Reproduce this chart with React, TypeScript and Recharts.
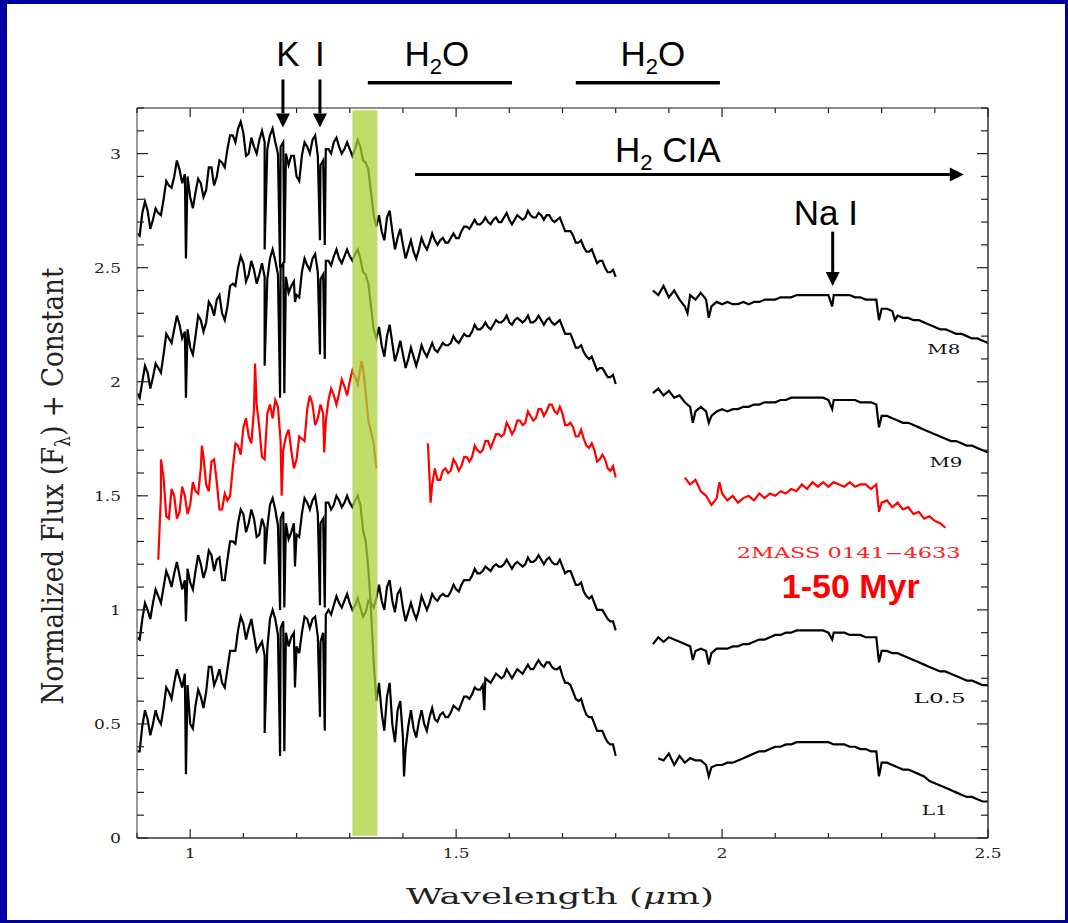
import React from 'react';
import { LineChart, Line, XAxis, YAxis, ReferenceArea, ReferenceLine, ReferenceDot } from 'recharts';

// wavelength grids (micron) for the three windows
const jWave = [0.90, 0.91, 0.92, 0.93, 0.94, 0.95, 0.96, 0.97, 0.98, 0.99, 1.00, 1.01, 1.02, 1.03, 1.04, 1.05, 1.06, 1.07, 1.08, 1.09, 1.10, 1.11, 1.12, 1.13, 1.14, 1.15, 1.16, 1.17, 1.18, 1.19, 1.20, 1.21, 1.22, 1.23, 1.24, 1.25, 1.26, 1.27, 1.28, 1.29, 1.30, 1.31, 1.32, 1.33, 1.34, 1.35];
const hWave = [1.36, 1.37, 1.38, 1.39, 1.40, 1.41, 1.42, 1.43, 1.44, 1.45, 1.46, 1.47, 1.48, 1.49, 1.50, 1.51, 1.52, 1.53, 1.54, 1.55, 1.56, 1.57, 1.58, 1.59, 1.60, 1.61, 1.62, 1.63, 1.64, 1.65, 1.66, 1.67, 1.68, 1.69, 1.70, 1.71, 1.72, 1.73, 1.74, 1.75, 1.76, 1.77, 1.78, 1.79, 1.80];
const kWave = [1.87, 1.88, 1.89, 1.90, 1.91, 1.92, 1.93, 1.94, 1.95, 1.96, 1.97, 1.98, 1.99, 2.00, 2.01, 2.02, 2.03, 2.04, 2.05, 2.06, 2.07, 2.08, 2.09, 2.10, 2.11, 2.12, 2.13, 2.14, 2.15, 2.16, 2.17, 2.18, 2.19, 2.20, 2.21, 2.22, 2.23, 2.24, 2.25, 2.26, 2.27, 2.28, 2.29, 2.30, 2.31, 2.32, 2.33, 2.34, 2.35, 2.36, 2.37, 2.38, 2.39, 2.40, 2.41, 2.42, 2.43, 2.44, 2.45, 2.46, 2.47, 2.48, 2.49, 2.50];
// in-between samples where the spectra are noisy
const jHalf = [0.905, 0.915, 0.925, 0.935, 0.945, 0.955, 0.965, 0.975, 0.985, 0.995, 1.005, 1.015, 1.025, 1.035, 1.045, 1.055, 1.065, 1.075, 1.085, 1.095, 1.105, 1.115, 1.125, 1.135, 1.145, 1.155, 1.165, 1.175, 1.185, 1.195, 1.205, 1.215, 1.225, 1.235, 1.245, 1.255, 1.265, 1.275, 1.285, 1.295, 1.305, 1.315, 1.325, 1.335, 1.345];
const hHalf = [1.355, 1.365, 1.375, 1.385, 1.395, 1.405, 1.415, 1.425, 1.435, 1.445, 1.455, 1.465, 1.475, 1.485, 1.495, 1.505, 1.515, 1.525, 1.535, 1.545, 1.555, 1.565, 1.575, 1.585, 1.595, 1.605, 1.615, 1.625, 1.635, 1.645, 1.655, 1.665, 1.675, 1.685, 1.695, 1.705, 1.715, 1.725, 1.735, 1.745, 1.755, 1.765, 1.775, 1.785, 1.795];
const gapWave = 1.835;

// M8
const m8J = [2.65, 2.74, 2.75, 2.71, 2.74, 2.80, 2.86, 2.90, 2.93, 2.91, 2.81, 2.83, 2.87, 2.84, 2.94, 2.90, 2.96, 3.02, 3.08, 3.11, 3.09, 3.00, 3.03, 3.06, 3.05, 3.08, 3.05, 3.03, 3.00, 2.99, 2.90, 2.99, 3.03, 3.06, 2.99, 2.97, 3.02, 3.05, 3.03, 3.02, 3.02, 3.02, 3.03, 2.96, 2.83, 2.68];
const m8Jh = [2.64, 2.79, 2.67, 2.76, 2.73, 2.88, 2.85, 2.97, 2.87, 2.90, 2.76, 2.89, 2.81, 2.94, 2.86, 2.97, 2.94, 3.08, 3.05, 3.14, 2.99, 3.07, 3.00, 3.10, 3.02, 3.11, 3.00, 3.05, 2.95, 2.99, 2.88, 3.05, 3.00, 3.08, 2.95, 3.02, 3.00, 3.07, 3.00, 3.05, 2.99, 3.06, 2.97, 2.93, 2.73];
const m8H = [2.66, 2.72, 2.66, 2.63, 2.60, 2.58, 2.57, 2.58, 2.60, 2.61, 2.62, 2.62, 2.61, 2.63, 2.63, 2.66, 2.68, 2.69, 2.69, 2.70, 2.70, 2.71, 2.70, 2.72, 2.71, 2.71, 2.72, 2.72, 2.73, 2.72, 2.73, 2.73, 2.71, 2.71, 2.69, 2.66, 2.64, 2.61, 2.59, 2.57, 2.55, 2.53, 2.50, 2.48, 2.46];
const m8Hh = [2.73, 2.62, 2.75, 2.58, 2.67, 2.54, 2.62, 2.54, 2.63, 2.58, 2.65, 2.60, 2.63, 2.61, 2.65, 2.63, 2.68, 2.67, 2.71, 2.69, 2.72, 2.69, 2.72, 2.70, 2.74, 2.69, 2.73, 2.71, 2.75, 2.72, 2.74, 2.71, 2.73, 2.70, 2.72, 2.66, 2.66, 2.61, 2.62, 2.57, 2.58, 2.52, 2.53, 2.48, 2.49];
const m8K = [2.40, 2.38, 2.42, 2.37, 2.40, 2.36, 2.33, 2.38, 2.36, 2.39, 2.36, 2.33, 2.35, 2.34, 2.35, 2.34, 2.34, 2.35, 2.34, 2.35, 2.35, 2.36, 2.36, 2.36, 2.37, 2.37, 2.37, 2.38, 2.38, 2.38, 2.38, 2.38, 2.38, 2.38, 2.38, 2.38, 2.38, 2.38, 2.37, 2.37, 2.36, 2.36, 2.36, 2.32, 2.32, 2.31, 2.29, 2.28, 2.28, 2.27, 2.27, 2.26, 2.25, 2.24, 2.23, 2.23, 2.22, 2.21, 2.21, 2.20, 2.19, 2.19, 2.18, 2.17];
const m8Lines = [[0.992, 2.54], [1.14, 2.58], [1.169, 2.50], [1.177, 2.52], [1.244, 2.62], [1.253, 2.60], [1.935, 2.30], [1.975, 2.28], [2.207, 2.33], [2.295, 2.27], [2.325, 2.27]];

// M9
const m9J = [1.95, 2.00, 2.04, 2.02, 2.06, 2.12, 2.19, 2.23, 2.25, 2.22, 2.15, 2.20, 2.27, 2.26, 2.33, 2.36, 2.30, 2.33, 2.43, 2.50, 2.52, 2.47, 2.49, 2.47, 2.46, 2.54, 2.53, 2.50, 2.46, 2.42, 2.38, 2.48, 2.51, 2.54, 2.48, 2.47, 2.53, 2.55, 2.54, 2.55, 2.55, 2.56, 2.54, 2.47, 2.33, 2.19];
const m9Jh = [1.93, 2.07, 1.97, 2.08, 2.04, 2.21, 2.17, 2.29, 2.19, 2.23, 2.12, 2.29, 2.22, 2.35, 2.29, 2.38, 2.27, 2.42, 2.42, 2.55, 2.44, 2.53, 2.43, 2.52, 2.45, 2.58, 2.47, 2.52, 2.39, 2.44, 2.37, 2.54, 2.49, 2.56, 2.45, 2.53, 2.51, 2.58, 2.52, 2.58, 2.53, 2.58, 2.48, 2.43, 2.23];
const m9H = [2.16, 2.20, 2.17, 2.13, 2.12, 2.10, 2.11, 2.11, 2.13, 2.14, 2.14, 2.15, 2.16, 2.17, 2.18, 2.19, 2.20, 2.22, 2.23, 2.24, 2.24, 2.25, 2.26, 2.27, 2.26, 2.27, 2.27, 2.27, 2.26, 2.27, 2.27, 2.27, 2.26, 2.26, 2.24, 2.21, 2.18, 2.15, 2.13, 2.10, 2.08, 2.06, 2.04, 2.02, 1.99];
const m9Hh = [2.24, 2.11, 2.25, 2.09, 2.18, 2.06, 2.15, 2.07, 2.16, 2.11, 2.17, 2.13, 2.17, 2.16, 2.20, 2.17, 2.21, 2.20, 2.25, 2.23, 2.26, 2.23, 2.27, 2.26, 2.29, 2.25, 2.28, 2.26, 2.29, 2.26, 2.29, 2.25, 2.28, 2.25, 2.27, 2.21, 2.21, 2.15, 2.16, 2.11, 2.11, 2.05, 2.06, 2.02, 2.03];
const m9K = [1.95, 1.97, 1.94, 1.96, 1.93, 1.94, 1.91, 1.89, 1.87, 1.89, 1.87, 1.85, 1.87, 1.88, 1.87, 1.88, 1.88, 1.89, 1.89, 1.90, 1.90, 1.91, 1.91, 1.91, 1.92, 1.92, 1.93, 1.93, 1.93, 1.93, 1.93, 1.93, 1.93, 1.92, 1.92, 1.92, 1.92, 1.92, 1.92, 1.91, 1.91, 1.91, 1.90, 1.85, 1.85, 1.84, 1.83, 1.82, 1.82, 1.81, 1.80, 1.79, 1.78, 1.77, 1.76, 1.75, 1.74, 1.74, 1.73, 1.72, 1.72, 1.71, 1.70, 1.69];
const m9Lines = [[0.992, 1.93], [1.14, 2.07], [1.169, 1.93], [1.177, 1.95], [1.197, 2.35], [1.244, 2.12], [1.253, 2.10], [1.945, 1.82], [1.975, 1.82], [2.207, 1.88], [2.295, 1.80]];

// 2MASS 0141-4633
const redJ = [null, null, null, null, 1.22, 1.58, 1.40, 1.50, 1.43, 1.50, 1.46, 1.52, 1.62, 1.55, 1.65, 1.56, 1.44, 1.48, 1.62, 1.72, 1.80, 1.76, 1.88, 1.80, 1.66, 1.90, 1.92, 1.74, 1.76, 1.70, 1.66, 1.75, 1.88, 1.90, 1.84, 1.86, 1.92, 1.94, 1.95, 1.98, 2.00, 2.02, 2.06, 1.95, 1.78, 1.62];
const redJh = [null, null, null, null, 1.50, 1.41, 1.53, 1.40, 1.54, 1.42, 1.56, 1.51, 1.67, 1.52, 1.66, 1.44, 1.51, 1.50, 1.73, 1.68, 1.84, 1.73, 1.90, 1.67, 1.86, 1.84, 1.89, 1.70, 1.79, 1.62, 1.76, 1.74, 1.94, 1.81, 1.90, 1.83, 1.97, 1.90, 2.01, 1.94, 2.05, 1.99, 2.06, 1.83, 1.73];
const redH = [null, null, null, null, null, null, null, null, null, 1.58, 1.62, 1.57, 1.62, 1.61, 1.64, 1.63, 1.67, 1.67, 1.70, 1.70, 1.74, 1.74, 1.77, 1.77, 1.80, 1.79, 1.83, 1.82, 1.85, 1.84, 1.88, 1.87, 1.90, 1.86, 1.86, 1.81, 1.80, 1.76, 1.75, 1.71, 1.70, 1.66, 1.66, 1.61, 1.58];
const redHh = [null, null, null, null, null, null, null, null, null, null, 1.55, 1.57, 1.61, 1.60, 1.66, 1.61, 1.67, 1.65, 1.72, 1.69, 1.74, 1.71, 1.77, 1.76, 1.82, 1.77, 1.83, 1.81, 1.87, 1.83, 1.88, 1.85, 1.90, 1.87, 1.89, 1.81, 1.82, 1.76, 1.79, 1.72, 1.73, 1.65, 1.68, 1.62, 1.63];
const redK = [null, null, null, null, null, null, 1.58, 1.55, 1.57, 1.52, 1.50, 1.46, 1.49, 1.51, 1.48, 1.50, 1.47, 1.49, 1.50, 1.48, 1.51, 1.49, 1.51, 1.50, 1.52, 1.51, 1.53, 1.52, 1.55, 1.53, 1.56, 1.54, 1.56, 1.54, 1.56, 1.55, 1.54, 1.56, 1.54, 1.55, 1.55, 1.53, 1.55, 1.47, 1.48, 1.45, 1.47, 1.44, 1.45, 1.42, 1.43, 1.40, 1.41, 1.39, 1.38, 1.36, null, null, null, null, null, null, null, null];
const redLines = [[0.945, 1.66], [1.022, 1.72], [1.122, 2.08], [1.172, 1.50], [1.252, 1.69], [1.322, 2.09], [1.447, 1.73], [1.452, 1.47], [1.995, 1.56], [2.295, 1.43]];

// L0.5
const l05J = [0.38, 0.49, 0.52, 0.50, 0.52, 0.57, 0.64, 0.68, 0.70, 0.72, 0.50, 0.58, 0.62, 0.64, 0.75, 0.70, 0.68, 0.74, 0.82, 0.91, 0.94, 0.92, 0.89, 0.84, 0.80, 0.96, 0.96, 0.92, 0.90, 0.88, 0.84, 0.90, 0.96, 0.96, 0.88, 0.90, 1.00, 1.02, 1.03, 1.04, 1.03, 1.02, 1.01, 0.99, 1.03, 1.05];
const l05Jh = [0.38, 0.56, 0.45, 0.56, 0.50, 0.66, 0.61, 0.74, 0.66, 0.67, 0.48, 0.65, 0.57, 0.75, 0.67, 0.74, 0.66, 0.82, 0.82, 0.97, 0.87, 0.96, 0.82, 0.86, 0.83, 1.00, 0.89, 0.95, 0.84, 0.90, 0.81, 0.97, 0.92, 0.97, 0.86, 0.98, 0.98, 1.06, 1.01, 1.07, 1.00, 1.05, 0.97, 1.04, 1.01];
const l05H = [1.04, 1.10, 1.04, 1.07, 1.01, 0.99, 0.99, 1.00, 1.03, 1.03, 1.05, 1.06, 1.06, 1.08, 1.09, 1.11, 1.13, 1.15, 1.16, 1.17, 1.18, 1.19, 1.19, 1.20, 1.20, 1.20, 1.20, 1.20, 1.21, 1.22, 1.22, 1.22, 1.21, 1.20, 1.19, 1.17, 1.14, 1.11, 1.08, 1.05, 1.03, 1.00, 0.98, 0.95, 0.91];
const l05Hh = [1.11, 1.00, 1.13, 0.99, 1.09, 0.95, 1.03, 0.96, 1.06, 1.00, 1.07, 1.04, 1.07, 1.06, 1.11, 1.08, 1.13, 1.13, 1.18, 1.16, 1.19, 1.17, 1.20, 1.19, 1.22, 1.18, 1.21, 1.19, 1.23, 1.21, 1.24, 1.20, 1.23, 1.20, 1.22, 1.16, 1.17, 1.11, 1.12, 1.06, 1.06, 1.00, 1.00, 0.96, 0.95];
const l05K = [0.85, 0.88, 0.86, 0.88, 0.87, 0.86, 0.85, 0.84, 0.82, 0.83, 0.82, 0.81, 0.83, 0.83, 0.83, 0.84, 0.84, 0.85, 0.85, 0.86, 0.87, 0.87, 0.88, 0.89, 0.89, 0.90, 0.90, 0.91, 0.91, 0.91, 0.91, 0.91, 0.91, 0.90, 0.90, 0.90, 0.90, 0.89, 0.89, 0.89, 0.88, 0.88, 0.88, 0.82, 0.82, 0.81, 0.81, 0.80, 0.79, 0.78, 0.77, 0.76, 0.75, 0.74, 0.73, 0.73, 0.72, 0.71, 0.70, 0.69, 0.69, 0.68, 0.67, 0.67];
const l05Lines = [[0.992, 0.28], [1.14, 0.46], [1.169, 0.36], [1.177, 0.38], [1.197, 0.66], [1.244, 0.53], [1.253, 0.47], [1.945, 0.78], [1.975, 0.76], [2.207, 0.87], [2.295, 0.77]];

// L1
const l1J = [0.88, 0.96, 1.00, 1.03, 1.06, 1.10, 1.14, 1.16, 1.15, 1.13, 1.12, 1.17, 1.20, 1.18, 1.24, 1.22, 1.13, 1.22, 1.30, 1.38, 1.42, 1.38, 1.40, 1.33, 1.36, 1.46, 1.44, 1.40, 1.38, 1.34, 1.33, 1.42, 1.47, 1.48, 1.42, 1.40, 1.47, 1.46, 1.48, 1.47, 1.47, 1.48, 1.46, 1.30, 1.00, 0.60];
const l1Jh = [0.87, 1.03, 0.96, 1.09, 1.03, 1.17, 1.10, 1.21, 1.09, 1.18, 1.09, 1.24, 1.14, 1.26, 1.17, 1.23, 1.13, 1.30, 1.29, 1.44, 1.34, 1.44, 1.32, 1.40, 1.36, 1.49, 1.37, 1.43, 1.31, 1.38, 1.32, 1.49, 1.44, 1.50, 1.38, 1.47, 1.44, 1.50, 1.45, 1.50, 1.45, 1.50, 1.35, 1.18, 0.77];
const l1H = [0.55, 0.62, 0.50, 0.56, 0.44, 0.49, 0.48, 0.51, 0.50, 0.53, 0.52, 0.54, 0.53, 0.55, 0.57, 0.59, 0.62, 0.63, 0.65, 0.67, 0.69, 0.70, 0.71, 0.71, 0.72, 0.72, 0.73, 0.74, 0.74, 0.76, 0.76, 0.77, 0.75, 0.74, 0.71, 0.68, 0.64, 0.60, 0.57, 0.53, 0.50, 0.47, 0.44, 0.41, 0.36];
const l1Hh = [0.68, 0.47, 0.68, 0.42, 0.60, 0.39, 0.56, 0.44, 0.56, 0.47, 0.57, 0.51, 0.55, 0.53, 0.58, 0.56, 0.62, 0.61, 0.66, 0.65, 0.70, 0.68, 0.72, 0.70, 0.74, 0.70, 0.74, 0.72, 0.76, 0.74, 0.78, 0.75, 0.77, 0.74, 0.75, 0.68, 0.67, 0.61, 0.61, 0.54, 0.53, 0.47, 0.47, 0.42, 0.41];
const l1K = [null, 0.35, 0.34, 0.37, 0.32, 0.36, 0.33, 0.35, 0.34, 0.34, 0.32, 0.31, 0.32, 0.32, 0.33, 0.33, 0.34, 0.35, 0.36, 0.37, 0.38, 0.38, 0.39, 0.40, 0.40, 0.41, 0.41, 0.42, 0.42, 0.42, 0.42, 0.42, 0.42, 0.42, 0.41, 0.41, 0.41, 0.40, 0.40, 0.39, 0.39, 0.38, 0.38, 0.33, 0.33, 0.32, 0.31, 0.30, 0.30, 0.29, 0.28, 0.27, 0.25, 0.24, 0.23, 0.22, 0.21, 0.20, 0.19, 0.18, 0.18, 0.17, 0.16, 0.16];
const l1Lines = [[0.992, 0.95], [1.14, 1.20], [1.169, 1.00], [1.177, 1.01], [1.197, 1.19], [1.244, 1.02], [1.253, 1.01], [1.402, 0.27], [1.553, 0.56], [1.975, 0.27], [2.295, 0.27]];

const xTicks = [0.9, 1.0, 1.1, 1.2, 1.3, 1.4, 1.5, 1.6, 1.7, 1.8, 1.9, 2.0, 2.1, 2.2, 2.3, 2.4, 2.5];
const xLabels = ['1', '1.5', '2', '2.5'];
const yTicks = [0, 0.1, 0.2, 0.3, 0.4, 0.5, 0.6, 0.7, 0.8, 0.9, 1.0, 1.1, 1.2, 1.3, 1.4, 1.5, 1.6, 1.7, 1.8, 1.9, 2.0, 2.1, 2.2, 2.3, 2.4, 2.5, 2.6, 2.7, 2.8, 2.9, 3.0, 3.1, 3.2];
const yLabels = ['0', '0.5', '1', '1.5', '2', '2.5', '3'];

type Vals = (number | null)[];
const toRows = (j: Vals, jh: Vals, h: Vals, hh: Vals, k: Vals, lines: number[][]) => {
  const rows: { w: number; f: number | null }[] = [];
  jWave.forEach((w, i) => rows.push({ w, f: j[i] }));
  jHalf.forEach((w, i) => rows.push({ w, f: jh[i] }));
  hWave.forEach((w, i) => rows.push({ w, f: h[i] }));
  hHalf.forEach((w, i) => rows.push({ w, f: hh[i] }));
  rows.push({ w: gapWave, f: null });
  kWave.forEach((w, i) => rows.push({ w, f: k[i] }));
  lines.forEach(([w, f]) => rows.push({ w, f }));
  return rows.sort((a, b) => a.w - b.w);
};

const spectra = [
  { key: 'M8', color: '#000000', rows: toRows(m8J, m8Jh, m8H, m8Hh, m8K, m8Lines) },
  { key: 'M9', color: '#000000', rows: toRows(m9J, m9Jh, m9H, m9Hh, m9K, m9Lines) },
  { key: '2MASS', color: '#ff0000', rows: toRows(redJ, redJh, redH, redHh, redK, redLines) },
  { key: 'L0.5', color: '#000000', rows: toRows(l05J, l05Jh, l05H, l05Hh, l05K, l05Lines) },
  { key: 'L1', color: '#000000', rows: toRows(l1J, l1Jh, l1H, l1Hh, l1K, l1Lines) },
];

const serif = '"DejaVu Serif", "Liberation Serif", serif';
const sans = '"Liberation Sans", Arial, sans-serif';

const BottomTick = (props: any) => {
  const { x, y, payload } = props;
  const lab = xLabels.includes(String(payload.value));
  return (
    <g>
      <line x1={x} y1={y} x2={x} y2={y - (lab ? 9 : 5)} stroke="#222" strokeWidth={1.2} />
      {lab && (
        <text x={x} y={y + 20} textAnchor="middle" fontFamily={serif} fontSize={13} fill="#222"
          textLength={String(payload.value).length > 1 ? 27 : 11} lengthAdjust="spacingAndGlyphs">
          {String(payload.value)}
        </text>
      )}
    </g>
  );
};

const TopTick = (props: any) => {
  const { x, y, payload } = props;
  const lab = xLabels.includes(String(payload.value));
  return <line x1={x} y1={y} x2={x} y2={y + (lab ? 9 : 5)} stroke="#222" strokeWidth={1.2} />;
};

const LeftTick = (props: any) => {
  const { x, y, payload } = props;
  const lab = yLabels.includes(String(payload.value));
  return (
    <g>
      <line x1={x} y1={y} x2={x + (lab ? 11 : 7)} y2={y} stroke="#222" strokeWidth={1.2} />
      {lab && (
        <text x={x - 16} y={y + 5} textAnchor="end" fontFamily={serif} fontSize={13} fill="#222"
          textLength={String(payload.value).length > 1 ? 27 : 11} lengthAdjust="spacingAndGlyphs">
          {String(payload.value)}
        </text>
      )}
    </g>
  );
};

const RightTick = (props: any) => {
  const { x, y, payload } = props;
  const lab = yLabels.includes(String(payload.value));
  return <line x1={x} y1={y} x2={x - (lab ? 11 : 7)} y2={y} stroke="#222" strokeWidth={1.2} />;
};

const arrowShape = (props: any) => {
  const { x1, y1, x2, y2 } = props;
  const dx = x2 - x1;
  const dy = y2 - y1;
  const len = Math.sqrt(dx * dx + dy * dy) || 1;
  const ux = dx / len;
  const uy = dy / len;
  const hl = 14;
  const hw = 7;
  const bx = x2 - ux * hl;
  const by = y2 - uy * hl;
  return (
    <g>
      <line x1={x1} y1={y1} x2={bx} y2={by} stroke="#000" strokeWidth={3} />
      <polygon
        points={`${x2},${y2} ${bx - uy * hw},${by + ux * hw} ${bx + uy * hw},${by - ux * hw}`}
        fill="#000"
      />
    </g>
  );
};

const barShape = (props: any) => {
  const { x1, y1, x2, y2 } = props;
  return <line x1={x1} y1={y1} x2={x2} y2={y2} stroke="#000" strokeWidth={3.5} />;
};

// annotations (data coordinates)
const arrowNotes = [
  { x1: 1.1744, y1: 3.325, x2: 1.1744, y2: 3.115 },
  { x1: 1.2440, y1: 3.325, x2: 1.2440, y2: 3.115 },
  { x1: 1.4226, y1: 2.908, x2: 2.4545, y2: 2.908 },
  { x1: 2.208, y1: 2.658, x2: 2.208, y2: 2.42 },
];
const barNotes = [
  { x1: 1.334, x2: 1.605, y: 3.311 },
  { x1: 1.725, x2: 1.996, y: 3.311 },
];

type Note = { x: number; y: number; kind: string; text: string };
const textNotes: Note[] = [
  { x: 1.1838, y: 3.382, kind: 'big', text: 'K' },
  { x: 1.2440, y: 3.382, kind: 'big', text: 'I' },
  { x: 1.4639, y: 3.382, kind: 'h2o', text: 'H2O' },
  { x: 1.8700, y: 3.382, kind: 'h2o', text: 'H2O' },
  { x: 1.8980, y: 2.965, kind: 'cia', text: 'H2 CIA' },
  { x: 2.1950, y: 2.689, kind: 'big', text: 'Na I' },
  { x: 2.4170, y: 2.123, kind: 'sp', text: 'M8' },
  { x: 2.4210, y: 1.627, kind: 'sp', text: 'M9' },
  { x: 2.2380, y: 1.228, kind: 'obj', text: '2MASS 0141\u22124633' },
  { x: 2.2420, y: 1.053, kind: 'age', text: '1-50 Myr' },
  { x: 2.4090, y: 0.592, kind: 'sp', text: 'L0.5' },
  { x: 2.4000, y: 0.101, kind: 'sp', text: 'L1' },
];

const spWidth: Record<string, number> = { M8: 33, M9: 33, 'L0.5': 52, L1: 26 };

const renderNote = (n: Note) => (props: any) => {
  const { cx, cy } = props;
  if (n.kind === 'big') {
    return <text x={cx} y={cy} textAnchor="middle" fontFamily={sans} fontSize={35} fill="#000">{n.text}</text>;
  }
  if (n.kind === 'h2o') {
    return (
      <text x={cx} y={cy} textAnchor="middle" fontFamily={sans} fontSize={35} fill="#000">
        H<tspan fontSize={22} dy={8}>2</tspan><tspan dy={-8}>O</tspan>
      </text>
    );
  }
  if (n.kind === 'cia') {
    return (
      <text x={cx} y={cy} textAnchor="middle" fontFamily={sans} fontSize={35} fill="#000">
        H<tspan fontSize={22} dy={8}>2</tspan><tspan dy={-8}> CIA</tspan>
      </text>
    );
  }
  if (n.kind === 'age') {
    return <text x={cx} y={cy} textAnchor="middle" fontFamily={sans} fontWeight="bold" fontSize={34} fill="#ff0000">{n.text}</text>;
  }
  if (n.kind === 'obj') {
    return (
      <text x={cx} y={cy} textAnchor="middle" fontFamily={serif} fontSize={14} fill="#ff2020"
        textLength={224} lengthAdjust="spacingAndGlyphs">{n.text}</text>
    );
  }
  return (
    <text x={cx} y={cy} textAnchor="middle" fontFamily={serif} fontSize={13} fill="#111"
      textLength={spWidth[n.text]} lengthAdjust="spacingAndGlyphs">{n.text}</text>
  );
};

const App = () => {
  return (
    <div style={{ position: 'absolute', left: 0, top: 0, width: 1068, height: 923, background: '#0000a0' }}>
      <div style={{ position: 'absolute', left: 7, top: 4, width: 1058, height: 916, background: '#ffffff' }}>
        <LineChart width={1058} height={916} margin={{ top: 103, right: 76, bottom: 81, left: 129 }}>
          <XAxis
            dataKey="w"
            type="number"
            domain={[0.9, 2.5]}
            ticks={xTicks}
            interval={0}
            height={1}
            tickSize={0}
            tickMargin={0}
            allowDataOverflow
            axisLine={{ stroke: '#333', strokeWidth: 1.5 }}
            tickLine={false}
            tick={BottomTick}
            label={{
              content: () => (
                <text x={553} y={900} textAnchor="middle" fontFamily={serif} fontSize={23} fill="#222"
                  textLength={308} lengthAdjust="spacingAndGlyphs">
                  Wavelength (<tspan fontStyle="italic">μ</tspan>m)
                </text>
              ),
            }}
          />
          <XAxis
            xAxisId="top"
            orientation="top"
            dataKey="w"
            type="number"
            domain={[0.9, 2.5]}
            ticks={xTicks}
            interval={0}
            height={1}
            tickSize={0}
            tickMargin={0}
            allowDataOverflow
            axisLine={{ stroke: '#666', strokeWidth: 1.5 }}
            tickLine={false}
            tick={TopTick}
          />
          <YAxis
            type="number"
            domain={[0, 3.2]}
            ticks={yTicks}
            interval={0}
            width={1}
            tickSize={0}
            tickMargin={0}
            allowDataOverflow
            axisLine={{ stroke: '#777', strokeWidth: 1.5 }}
            tickLine={false}
            tick={LeftTick}
            label={{
              content: () => (
                <text transform="translate(56, 482) rotate(-90)" textAnchor="middle" fontFamily={serif} fontSize={30}
                  fill="#222" textLength={437} lengthAdjust="spacingAndGlyphs">
                  Normalized Flux (F<tspan fontSize={20} dy={7}>λ</tspan><tspan dy={-7}>) + Constant</tspan>
                </text>
              ),
            }}
          />
          <YAxis
            yAxisId="right"
            orientation="right"
            type="number"
            domain={[0, 3.2]}
            ticks={yTicks}
            interval={0}
            width={1}
            tickSize={0}
            tickMargin={0}
            allowDataOverflow
            axisLine={{ stroke: '#333', strokeWidth: 1.5 }}
            tickLine={false}
            tick={RightTick}
          />
          {spectra.map((s) => (
            <Line
              key={s.key}
              data={s.rows}
              dataKey="f"
              type="linear"
              stroke={s.color}
              strokeWidth={2.2}
              dot={false}
              activeDot={false}
              connectNulls={false}
              isAnimationActive={false}
            />
          ))}
          <ReferenceArea
            x1={1.305}
            x2={1.352}
            y1={0.01}
            y2={3.19}
            fill="#a8d23a"
            fillOpacity={0.75}
            stroke="none"
            ifOverflow="visible"
            zIndex={450}
          />
          {barNotes.map((b, i) => (
            <ReferenceLine
              key={`bar${i}`}
              segment={[{ x: b.x1, y: b.y }, { x: b.x2, y: b.y }]}
              ifOverflow="visible"
              shape={barShape}
            />
          ))}
          {arrowNotes.map((a, i) => (
            <ReferenceLine
              key={`arrow${i}`}
              segment={[{ x: a.x1, y: a.y1 }, { x: a.x2, y: a.y2 }]}
              ifOverflow="visible"
              shape={arrowShape}
              zIndex={600}
            />
          ))}
          {textNotes.map((n, i) => (
            <ReferenceDot key={`note${i}`} x={n.x} y={n.y} r={1} ifOverflow="visible" shape={renderNote(n)} zIndex={600} />
          ))}
        </LineChart>
      </div>
    </div>
  );
};

export default App;
